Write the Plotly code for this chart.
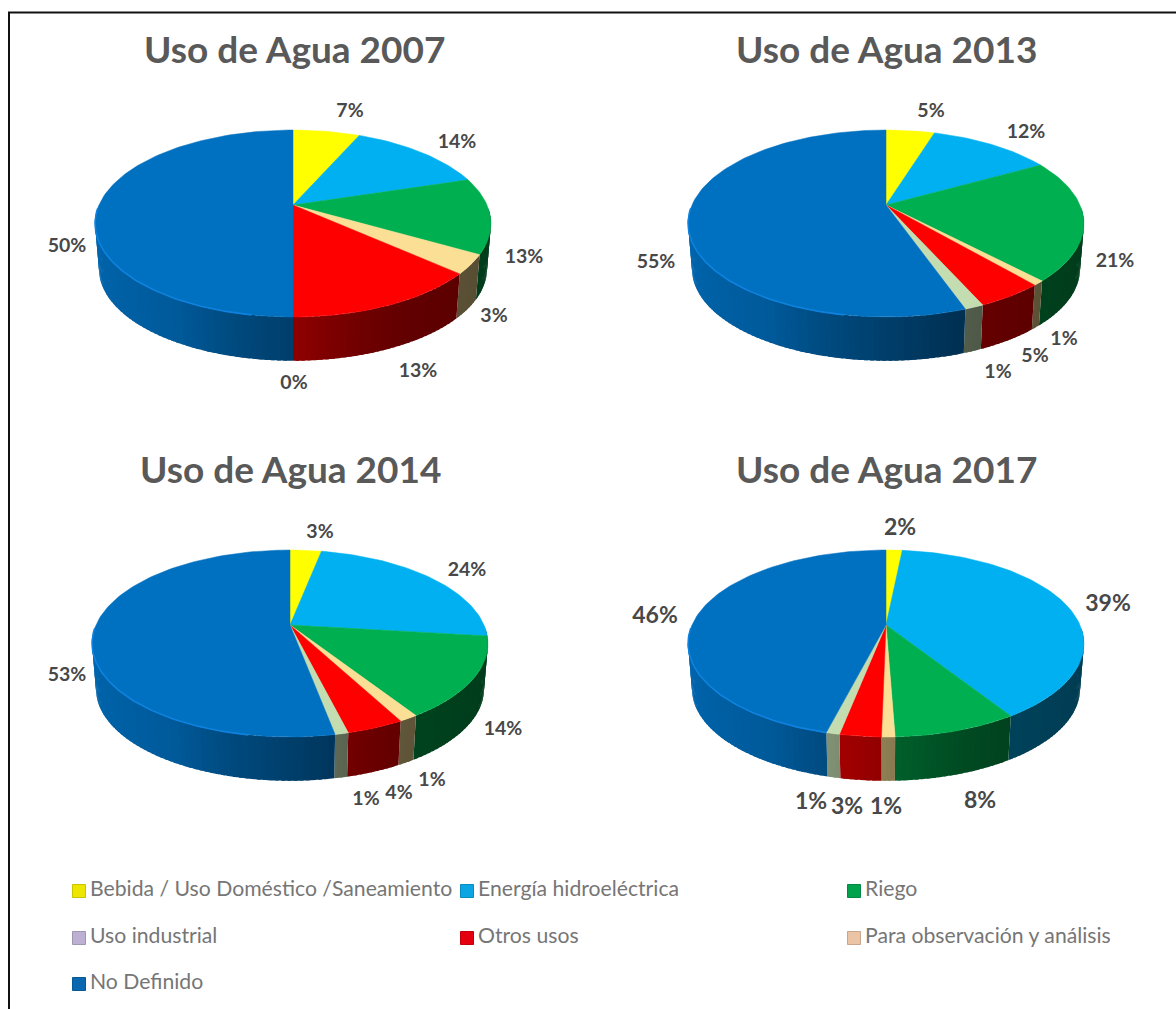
import math
import numpy as np
import plotly.graph_objects as go

# ---------- data ----------
SLICE_NAMES = ["Bebida / Uso Doméstico /Saneamiento", "Energía hidroeléctrica", "Riego",
               "Para observación y análisis", "Otros usos", "Uso industrial", "No Definido"]
YEARS = [2007, 2013, 2014, 2017]
USO_2007 = [6.6, 13.6, 13.1, 3.3, 13.4, 0.0, 50.0]
USO_2013 = [4.8, 12.1, 21.0, 0.8, 4.6, 1.3, 55.4]
USO_2014 = [3.1, 23.8, 14.0, 1.3, 3.9, 0.9, 53.0]
USO_2017 = [1.6, 39.4, 8.4, 0.9, 2.8, 0.9, 46.0]
LEGEND_ORDER = ["Bebida / Uso Doméstico /Saneamiento", "Energía hidroeléctrica", "Riego",
                "Uso industrial", "Otros usos", "Para observación y análisis", "No Definido"]

# ---------- style ----------
SLICE_COLORS = ["#FFFF00", "#00B0F0", "#00B050", "#FADF94", "#FF0000", "#C3DCB0", "#0070C0"]
LEGEND_COLORS = {"Bebida / Uso Doméstico /Saneamiento": "#EDE600", "Energía hidroeléctrica": "#0AA5E2",
                 "Riego": "#00A24C", "Uso industrial": "#BDB0D2", "Otros usos": "#E4000F",
                 "Para observación y análisis": "#EBC3A5", "No Definido": "#0A68B0"}
FONT = "Lato"
TITLE_COLOR = "#595959"
LABEL_COLOR = "#484848"
LEGEND_TEXT = "#767676"

# ---------- layout (pixels) ----------
W, H = 1176, 1009
APEX = {2007: (293, 205), 2013: (886, 205), 2014: (290, 625), 2017: (886, 625)}
TITLE_POS = {2007: (294, 48), 2013: (886, 48), 2014: (290, 468), 2017: (886, 468)}
LABEL_POS = {
    2007: [(350, 112), (457, 143), (524, 258), (494, 317), (418, 372), (294, 384), (67, 247)],
    2013: [(931, 112), (1026, 133), (1115, 262), (1064, 340), (1035, 357), (998, 373), (656, 263)],
    2014: [(320, 533), (467, 571), (503, 730), (432, 781), (399, 794), (366, 800), (67, 676)],
    2017: [(900, 529), (1108, 605), (980, 802), (886, 808), (847, 808), (811, 803), (655, 617)],
}
LABEL_SIZE = {2007: 19.5, 2013: 19.5, 2014: 19.5, 2017: 23}
LEGEND_POS = [(79, 891), (467, 891), (854, 891),
              (79, 938), (467, 938), (854, 938),
              (79, 984)]
LEGEND_TEXT_GAP = 11

R, K, P = 194.0, 89.8, 0.198   # projected pie: radius, vertical radius, perspective
DEPTH, BOTTOM_SCALE = 46.0, 0.98


def project(theta, apex, dy=0.0, scale=1.0):
    s = scale / (1 + P * np.cos(theta))
    return apex[0] + R * np.sin(theta) * s, apex[1] + dy - K * np.cos(theta) * s


def shade(hex_color, f):
    r, g, b = (int(hex_color[i:i + 2], 16) for i in (1, 3, 5))
    return f"rgb({r * f:.0f},{g * f:.0f},{b * f:.0f})"


def wall_factor(x_rel):
    return float(np.interp(x_rel, [-1, -0.5, -0.25, 0, 0.3, 0.5, 1], [0.9, 0.8, 0.66, 0.56, 0.43, 0.38, 0.34]))


fig = go.Figure()


def add_pie(year, values):
    apex = APEX[year]
    edges = 2 * math.pi * np.cumsum([0] + values) / sum(values)
    # side wall, drawn as overlapping strips so no seams show
    step = math.radians(1.5)
    for i, col in enumerate(SLICE_COLORS):
        a0, a1 = max(edges[i], math.radians(92)), min(edges[i + 1], math.radians(268))
        if a1 <= a0:
            continue
        n = max(1, int(math.ceil((a1 - a0) / step)))
        ts = np.linspace(a0, a1, n + 1)
        d = (a1 - a0) / n
        for k, (t0, t1) in enumerate(zip(ts[:-1], ts[1:])):
            tt = np.linspace(t0, t1 + (d * 0.6 if k < n - 1 else 0), 3)
            xt, yt = project(tt, apex)
            xb, yb = project(tt[::-1], apex, DEPTH, BOTTOM_SCALE)
            c = shade(col, wall_factor(float(np.sin((t0 + t1) / 2))))
            fig.add_trace(go.Scatter(x=np.r_[xt, xb, xt[0]], y=np.r_[yt, yb, yt[0]], mode="none",
                                     fill="toself", fillcolor=c,
                                     hoverinfo="skip", showlegend=False))
    # top face
    for i, col in enumerate(SLICE_COLORS):
        if values[i] <= 0:
            continue
        n = max(2, int((edges[i + 1] - edges[i]) / math.radians(1.5)))
        tt = np.linspace(edges[i], edges[i + 1], n + 1)
        x, y = project(tt, apex)
        fig.add_trace(go.Scatter(x=np.r_[apex[0], x, apex[0]], y=np.r_[apex[1], y, apex[1]], mode="lines",
                                 fill="toself", fillcolor=col, line=dict(color=col, width=0.5),
                                 name=f"{SLICE_NAMES[i]} {year}", showlegend=False,
                                 text=f"{SLICE_NAMES[i]}: {values[i]:.0f}%", hoverinfo="text"))
    # light rim on the front-left edge
    a0 = max(edges[6], math.radians(190))
    tt = np.linspace(a0, math.radians(268), 80)
    x, y = project(tt, apex)
    fig.add_trace(go.Scatter(x=x, y=y, mode="lines", line=dict(color="#0E82DE", width=1.6),
                             hoverinfo="skip", showlegend=False))
    # percentage labels
    fig.add_trace(go.Scatter(x=[p[0] for p in LABEL_POS[year]], y=[p[1] for p in LABEL_POS[year]],
                             mode="text", text=[f"{v:.0f}%" for v in values], showlegend=False,
                             hoverinfo="skip",
                             textfont=dict(family=FONT, size=LABEL_SIZE[year], color=LABEL_COLOR, weight="bold")))
    fig.add_annotation(x=TITLE_POS[year][0], y=TITLE_POS[year][1], text=f"<b>Uso de Agua {year}</b>",
                       showarrow=False, font=dict(family=FONT, size=37, color=TITLE_COLOR))


for year, vals in zip(YEARS, [USO_2007, USO_2013, USO_2014, USO_2017]):
    add_pie(year, vals)

for name, (lx, ly) in zip(LEGEND_ORDER, LEGEND_POS):
    col = LEGEND_COLORS[name]
    fig.add_trace(go.Scatter(x=[lx], y=[ly], mode="markers", name=name,
                             showlegend=False, hoverinfo="skip",
                             marker=dict(symbol="square", size=13, color=col,
                                         line=dict(color=shade(col, 0.85), width=1))))
    fig.add_trace(go.Scatter(x=[lx + LEGEND_TEXT_GAP], y=[ly], mode="text", text=[name],
                             textposition="middle right", showlegend=False, hoverinfo="skip",
                             textfont=dict(family=FONT, size=21.2, color=LEGEND_TEXT)))

frame = dict(type="path", path=f"M 9 {H} L 9 12.5 L {W} 12.5", line=dict(color="#111111", width=2))
fig.update_layout(width=W, height=H, margin=dict(l=0, r=0, t=0, b=0), paper_bgcolor="white",
                  plot_bgcolor="white", showlegend=False, shapes=[frame],
                  xaxis=dict(range=[0, W], visible=False, fixedrange=True),
                  yaxis=dict(range=[H, 0], visible=False, fixedrange=True))
fig.write_html("out.html", config=dict(displayModeBar=False),
               post_script="document.body.style.margin='0';document.body.style.overflow='hidden';")
